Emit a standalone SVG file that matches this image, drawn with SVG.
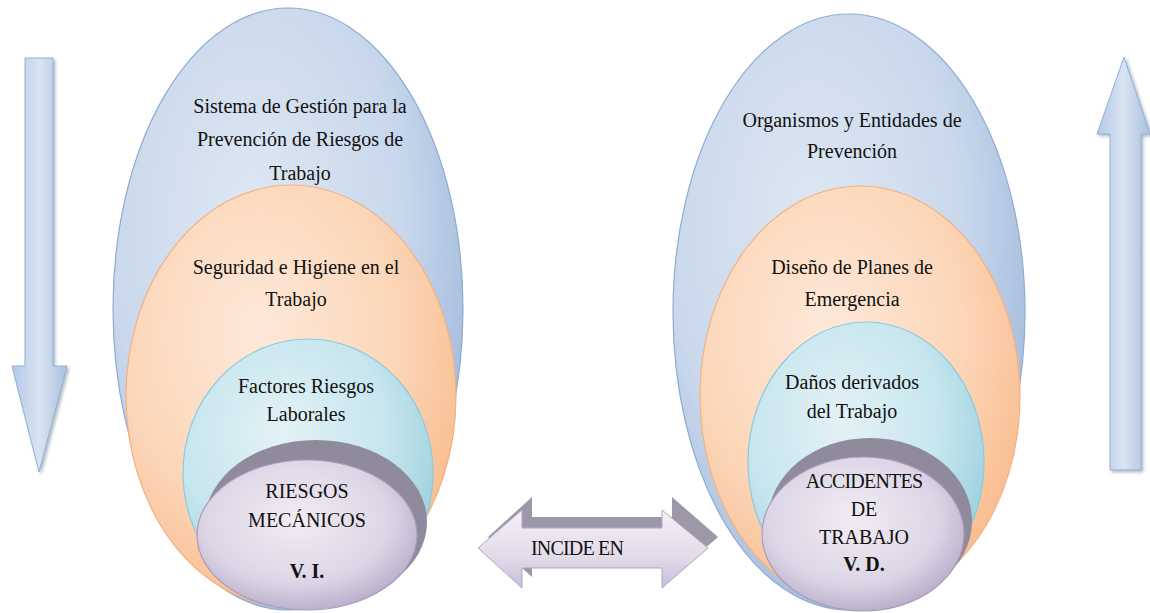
<svg xmlns="http://www.w3.org/2000/svg" width="1150" height="613" viewBox="0 0 1150 613">
<defs>
<radialGradient id="gBlue" cx="0.4" cy="0.35" r="0.7">
<stop offset="0" stop-color="#dfe8f3"/><stop offset="0.6" stop-color="#c9d8ec"/><stop offset="1" stop-color="#9fb8db"/>
</radialGradient>
<radialGradient id="gOrange" cx="0.4" cy="0.35" r="0.7">
<stop offset="0" stop-color="#fde9da"/><stop offset="0.6" stop-color="#fcd6b8"/><stop offset="1" stop-color="#f8bb8c"/>
</radialGradient>
<radialGradient id="gTeal" cx="0.4" cy="0.35" r="0.7">
<stop offset="0" stop-color="#e3f2f6"/><stop offset="0.6" stop-color="#c6e5ee"/><stop offset="1" stop-color="#98cfdd"/>
</radialGradient>
<radialGradient id="gPurple" cx="0.45" cy="0.4" r="0.65">
<stop offset="0" stop-color="#f1edf4"/><stop offset="0.65" stop-color="#ddd5e6"/><stop offset="1" stop-color="#b3a8c6"/>
</radialGradient>
<linearGradient id="gArrowV" x1="0" y1="0" x2="1" y2="0">
<stop offset="0" stop-color="#b4c9e6"/><stop offset="0.5" stop-color="#d9e4f2"/><stop offset="1" stop-color="#a9c0e0"/>
</linearGradient>
<linearGradient id="gArrowH" x1="0" y1="0" x2="0" y2="1">
<stop offset="0" stop-color="#f4f1f7"/><stop offset="0.6" stop-color="#e2dcea"/><stop offset="1" stop-color="#c6bcd5"/>
</linearGradient>
<filter id="sh" x="-20%" y="-20%" width="140%" height="140%">
<feDropShadow dx="2" dy="2" stdDeviation="1.5" flood-color="#6b7a90" flood-opacity="0.5"/>
</filter>
</defs>
<style>
.blue{fill:url(#gBlue);stroke:#8eaad3;stroke-width:1.2}
.orange{fill:url(#gOrange);stroke:#f2b184;stroke-width:1.2}
.teal{fill:url(#gTeal);stroke:#8fcadb;stroke-width:1.2}
.pshadow{fill:#8f8a9c}
.purple{fill:url(#gPurple);stroke:#a99bbd;stroke-width:1.2}
.arrowv{fill:url(#gArrowV);stroke:#93b0d6;stroke-width:1}
.arrowh{fill:url(#gArrowH);stroke:#b2a7c4;stroke-width:1}
.ashadow{fill:#9c97a9}
text{font-family:"Liberation Serif","Times New Roman",serif;font-size:20px;fill:#111;text-anchor:middle}
.b{font-weight:bold}
</style>

<g id="arrow-down" filter="url(#sh)">
<path class="arrowv" d="M25,58 L53,58 L53,366 L67,366 L39,472 L12,366 L25,366 Z"/>
</g>
<g id="arrow-up" filter="url(#sh)">
<path class="arrowv" d="M1124,57 L1150,134 L1141,134 L1141,470 L1110,470 L1110,134 L1097,134 Z"/>
</g>

<g id="left-nodes">
<g id="node-sistema">
<ellipse class="blue" cx="288" cy="309" rx="175" ry="301"/>
<text x="300" y="113">Sistema de Gestión para la</text>
<text x="300" y="146">Prevención de Riesgos de</text>
<text x="300" y="180">Trabajo</text>
</g>
<g id="node-seguridad">
<ellipse class="orange" cx="291" cy="396" rx="165" ry="211"/>
<text x="296" y="274">Seguridad e Higiene en el</text>
<text x="296" y="306">Trabajo</text>
</g>
<g id="node-factores">
<ellipse class="teal" cx="308" cy="473" rx="125" ry="134"/>
<text x="306" y="393">Factores Riesgos</text>
<text x="306" y="421">Laborales</text>
</g>
<g id="node-riesgos">
<ellipse class="pshadow" cx="316" cy="522" rx="111" ry="82"/>
<ellipse class="purple" cx="307" cy="535" rx="110" ry="75"/>
<text x="307" y="498">RIESGOS</text>
<text x="307" y="527">MECÁNICOS</text>
<text class="b" x="307" y="578">V. I.</text>
</g>
</g>

<g id="right-nodes">
<g id="node-organismos">
<ellipse class="blue" cx="849" cy="312" rx="176" ry="298"/>
<text x="852" y="127">Organismos y Entidades de</text>
<text x="852" y="158">Prevención</text>
</g>
<g id="node-diseno">
<ellipse class="orange" cx="860" cy="396" rx="160" ry="210"/>
<text x="852" y="274">Diseño de Planes de</text>
<text x="852" y="306">Emergencia</text>
</g>
<g id="node-danos">
<ellipse class="teal" cx="866" cy="462" rx="118" ry="140"/>
<text x="852" y="389">Daños derivados</text>
<text x="852" y="418">del Trabajo</text>
</g>
<g id="node-accidentes">
<ellipse class="pshadow" cx="870" cy="521" rx="102" ry="83"/>
<ellipse class="purple" cx="863" cy="534" rx="101" ry="77"/>
<text x="864" y="488" style="letter-spacing:-0.8px">ACCIDENTES</text>
<text x="864" y="516">DE</text>
<text x="864" y="544">TRABAJO</text>
<text class="b" x="864" y="571">V. D.</text>
</g>
</g>

<g id="connectors">
<g id="incide-en">
<path class="ashadow" d="M488,537 L532,497 L532,517 L672,517 L672,497 L718,537 L672,577 L672,558 L532,558 L532,577 Z"/>
<path class="arrowh" d="M478,548 L522,510 L522,528 L662,528 L662,510 L708,548 L662,588 L662,568 L522,568 L522,588 Z"/>
<text x="577" y="555" style="letter-spacing:-0.8px">INCIDE EN</text>
</g>
</g>
</svg>
